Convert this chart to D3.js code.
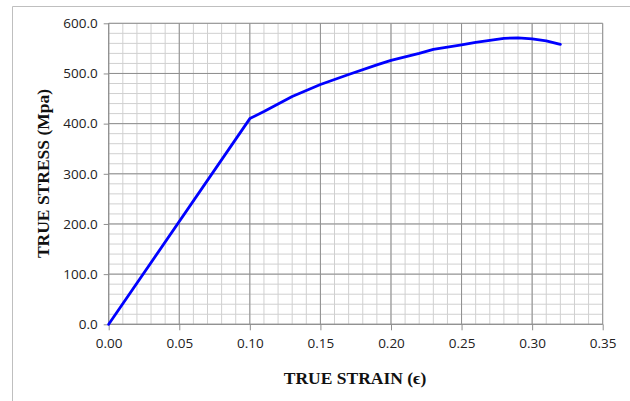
<!DOCTYPE html>
<html><head><meta charset="utf-8">
<script src="https://cdn.jsdelivr.net/npm/d3@7"></script>
<style>body{margin:0;background:#fff}svg{display:block}</style>
</head><body><svg id="c" width="630" height="401"></svg>
<script>
const strain = [0.00, 0.10, 0.11, 0.13, 0.15, 0.17, 0.19, 0.20, 0.22, 0.23, 0.25, 0.26, 0.27, 0.28, 0.29, 0.30, 0.31, 0.32];
const stress = [0, 410, 424, 454, 478, 498, 517, 526, 540, 548, 557, 562, 566, 570, 571, 569, 565, 558];
const xTicks = [0.00, 0.05, 0.10, 0.15, 0.20, 0.25, 0.30, 0.35];
const yTicks = [0, 100, 200, 300, 400, 500, 600];
const xTitle = "TRUE STRAIN (\u03F5)";
const yTitle = "TRUE STRESS (Mpa)";

const svg = d3.select("#c");
const L = 108.7, R = 602.7, T = 23.3, B = 324.3;
const x = d3.scaleLinear().domain([0, 0.35]).range([L, R]);
const y = d3.scaleLinear().domain([0, 600]).range([B, T]);

// outer frame
svg.append("path").attr("d", "M12.5,401 L12.5,6.5 L630,6.5").attr("fill", "none").attr("stroke", "#bfbfbf").attr("stroke-width", 1);

const g = svg.append("g");
// minor grid
const xMinor = d3.range(0, 36).map(i => i / 100);
const yMinor = d3.range(0, 31).map(i => i * 20);
g.selectAll(".xm").data(xMinor).join("line")
  .attr("x1", d => x(d)).attr("x2", d => x(d)).attr("y1", T).attr("y2", B)
  .attr("stroke", "#d0d0d0").attr("stroke-width", 1);
g.selectAll(".ym").data(yMinor).join("line")
  .attr("y1", d => y(d)).attr("y2", d => y(d)).attr("x1", L).attr("x2", R)
  .attr("stroke", "#d0d0d0").attr("stroke-width", 1);
// major grid
g.selectAll(".xM").data(xTicks).join("line")
  .attr("x1", d => x(d)).attr("x2", d => x(d)).attr("y1", T).attr("y2", B)
  .attr("stroke", "#8f8f8f").attr("stroke-width", 1);
g.selectAll(".yM").data(yTicks).join("line")
  .attr("y1", d => y(d)).attr("y2", d => y(d)).attr("x1", L).attr("x2", R)
  .attr("stroke", "#8f8f8f").attr("stroke-width", 1);

// axes
const xAxis = d3.axisBottom(x).tickValues(xTicks).tickFormat(d3.format(".2f")).tickSize(6).tickPadding(8);
const yAxis = d3.axisLeft(y).tickValues(yTicks).tickFormat(d3.format(".1f")).tickSize(5).tickPadding(6);
const ax = svg.append("g").attr("transform", `translate(0,${B})`).call(xAxis);
const ay = svg.append("g").attr("transform", `translate(${L},0)`).call(yAxis);
[ax, ay].forEach(a => {
  a.selectAll("path,line").attr("stroke", "#8f8f8f");
  a.selectAll("text").attr("font-family", "'Open Sans', 'Liberation Sans', sans-serif").attr("font-size", 13.5).attr("fill", "#222");
});
ax.select(".domain").attr("d", `M${L},0H${R}`);
ay.select(".domain").attr("d", `M0,${B}V${T}`);

// curve
const pts = strain.map((s, i) => [s, stress[i]]);
svg.append("path").datum(pts)
  .attr("d", d3.line().x(d => x(d[0])).y(d => y(d[1])))
  .attr("fill", "none").attr("stroke", "#0000ff").attr("stroke-width", 2.8).attr("stroke-linejoin", "round").attr("stroke-linecap", "round");

// titles
svg.append("text").attr("x", 355).attr("y", 383.5).attr("text-anchor", "middle")
  .attr("font-family", "'Liberation Serif', 'DejaVu Serif', serif").attr("font-weight", "bold").attr("font-size", 17.5).attr("fill", "#111").text(xTitle);
svg.append("text").attr("transform", "translate(49,173.5) rotate(-90)").attr("text-anchor", "middle")
  .attr("font-family", "'Liberation Serif', 'DejaVu Serif', serif").attr("font-weight", "bold").attr("font-size", 17.5).attr("fill", "#111").text(yTitle);
</script></body></html>
